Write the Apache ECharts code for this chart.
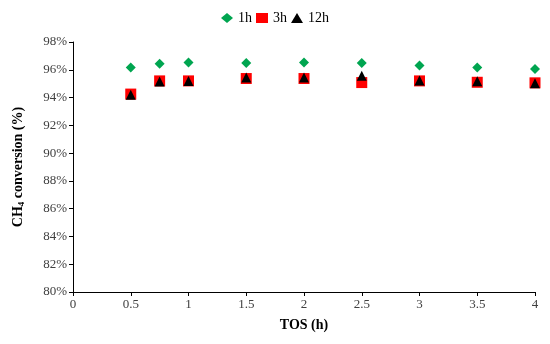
<!DOCTYPE html>
<html><head><meta charset="utf-8">
<script src="https://cdn.jsdelivr.net/npm/echarts@6/dist/echarts.min.js"></script>
<style>html,body{margin:0;padding:0;background:#fff}#c{width:550px;height:344px}</style>
</head><body><div id="c"></div>
<script>
const tos = [0.5, 0.75, 1, 1.5, 2, 2.5, 3, 3.5, 4];
const conv1h = [96.17, 96.43, 96.53, 96.48, 96.53, 96.48, 96.31, 96.17, 96.05];
const conv3h = [94.25, 95.2, 95.2, 95.37, 95.37, 95.08, 95.2, 95.1, 95.06];
const conv12h = [94.2, 95.15, 95.2, 95.45, 95.45, 95.57, 95.22, 95.18, 95.03];
const xTicks = [0, 4, 0.5];
const yTicks = [80, 98, 2];

const font = 'Liberation Serif';
const pair = (ys) => tos.map((x, i) => [x, ys[i]]);
const chart = echarts.init(document.getElementById('c'));
chart.setOption({
  animation: false,
  textStyle: { fontFamily: font },
  legend: {
    top: 6, left: 'center', itemGap: 4, itemWidth: 12, itemHeight: 10,
    textStyle: { fontFamily: font, fontSize: 14, color: '#000' },
    data: ['1h', '3h', '12h']
  },
  grid: { left: 73, right: 15, top: 42, bottom: 52 },
  xAxis: {
    type: 'value', min: xTicks[0], max: xTicks[1], interval: xTicks[2],
    name: 'TOS (h)', nameLocation: 'middle', nameGap: 26,
    nameTextStyle: { fontFamily: font, fontWeight: 'bold', fontSize: 14, color: '#000' },
    axisLine: { lineStyle: { color: '#000', width: 1 } },
    axisTick: { show: true, inside: false, length: 4, lineStyle: { color: '#000' } },
    axisLabel: { fontFamily: font, fontSize: 13, color: '#404040', margin: 6 },
    splitLine: { show: false }
  },
  yAxis: {
    type: 'value', min: yTicks[0], max: yTicks[1], interval: yTicks[2],
    name: '{b|CH}{s|4}{b| conversion (%)}', nameLocation: 'middle', nameGap: 47,
    nameTextStyle: {
      rich: {
        b: { fontFamily: font, fontWeight: 'bold', fontSize: 14, color: '#000' },
        s: { fontFamily: font, fontWeight: 'bold', fontSize: 9, color: '#000', verticalAlign: 'bottom', padding: [6, 0, 0, 0] }
      }
    },
    axisLine: { show: true, lineStyle: { color: '#000', width: 1 } },
    axisTick: { show: true, inside: false, length: 4, lineStyle: { color: '#000' } },
    axisLabel: { fontFamily: font, fontSize: 13, color: '#404040', margin: 6, formatter: '{value}%' },
    splitLine: { show: false }
  },
  series: [
    { name: '1h', type: 'scatter', symbol: 'diamond', symbolSize: 10, itemStyle: { color: '#00A550', opacity: 1 }, data: pair(conv1h) },
    { name: '3h', type: 'scatter', symbol: 'rect', symbolSize: 11, itemStyle: { color: '#FF0000', opacity: 1 }, data: pair(conv3h) },
    { name: '12h', type: 'scatter', symbol: 'triangle', symbolSize: 10, itemStyle: { color: '#000', opacity: 1 }, data: pair(conv12h) }
  ]
});
</script></body></html>
